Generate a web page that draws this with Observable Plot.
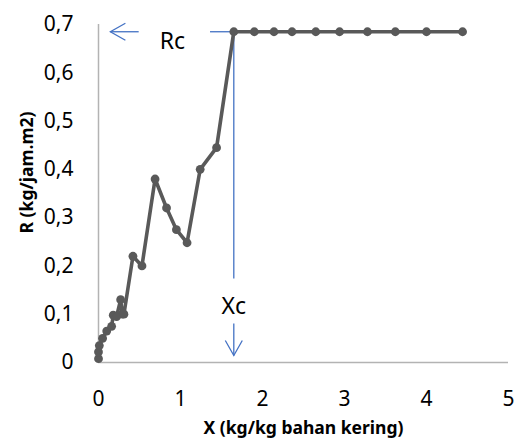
<!DOCTYPE html>
<html>
<head>
<meta charset="utf-8">
<script src="https://cdn.jsdelivr.net/npm/d3@7"></script>
<script src="https://cdn.jsdelivr.net/npm/@observablehq/plot@0.6"></script>
<style>
  html, body { margin: 0; padding: 0; background: #fff; }
  #chart { width: 519px; height: 441px; }
</style>
</head>
<body>
<div id="chart"></div>
<script>
// Moisture content X (kg/kg dry matter) and drying rate R (kg/jam.m2)
const X = [0.00, 0.00, 0.01, 0.05, 0.10, 0.16, 0.18, 0.22, 0.27, 0.29, 0.31,
           0.42, 0.53, 0.69, 0.83, 0.95, 1.08, 1.24, 1.44,
           1.65, 1.90, 2.14, 2.36, 2.65, 2.94, 3.28, 3.62, 4.00, 4.44];
const R = [0.008, 0.022, 0.035, 0.05, 0.065, 0.075, 0.098, 0.095, 0.13, 0.10, 0.10,
           0.22, 0.20, 0.38, 0.32, 0.275, 0.248, 0.40, 0.445,
           0.685, 0.685, 0.685, 0.685, 0.685, 0.685, 0.685, 0.685, 0.685, 0.685];

// critical point
const Rc = 0.685;
const Xc = 1.65;

const xTicks = [0, 1, 2, 3, 4, 5];
const yTicks = [0, 0.1, 0.2, 0.3, 0.4, 0.5, 0.6, 0.7];

const data = X.map((x, i) => ({x, r: R[i]}));
const comma = d => d === 0 ? "0" : String(d).replace(".", ",");

const font = "'Noto Sans', 'Open Sans', sans-serif";
const gray = "#595959";
const blue = "#4472c4";
const axisGray = "#b3b3b3";

// open "V" arrowheads, tip at the symbol's origin
const headLeft = {draw(ctx) { ctx.moveTo(15, -8.5); ctx.lineTo(0, 0); ctx.lineTo(15, 8.5); }};
const headDown = {draw(ctx) { ctx.moveTo(-8.5, -15); ctx.lineTo(0, 0); ctx.lineTo(8.5, -15); }};

const chart = Plot.plot({
  width: 519,
  height: 441,
  marginLeft: 98,
  marginRight: 11,
  marginTop: 24,
  marginBottom: 79,
  x: {domain: [0, 5]},
  y: {domain: [0, 0.7]},
  style: {fontFamily: font, fontSize: "21px", color: "#000", background: "#fff"},
  marks: [
    Plot.axisX({ticks: xTicks, tickSize: 0, tickPadding: 29, tickFormat: comma, label: null}),
    Plot.axisY({ticks: yTicks, tickSize: 0, tickPadding: 25, tickFormat: comma, label: null}),
    Plot.ruleY([0], {x1: 0, x2: 5, stroke: axisGray, strokeWidth: 1.5}),
    Plot.ruleX([0], {y1: 0, y2: 0.7, stroke: axisGray, strokeWidth: 1.5}),

    // Rc / Xc annotation
    Plot.link([{x1: 0.49, x2: 0.145}], {x1: "x1", x2: "x2", y1: Rc, y2: Rc,
      stroke: blue, strokeWidth: 1.3}),
    Plot.dot([0.145], {x: d => d, y: Rc, symbol: headLeft, r: 5, fill: "none",
      stroke: blue, strokeWidth: 1.3}),
    Plot.link([{x1: 1.36, x2: Xc}], {x1: "x1", x2: "x2", y1: Rc, y2: Rc,
      stroke: blue, strokeWidth: 1.3}),
    Plot.link([{y1: Rc, y2: 0.174}], {x1: Xc, x2: Xc, y1: "y1", y2: "y2",
      stroke: blue, strokeWidth: 1.3}),
    Plot.link([{y1: 0.081, y2: 0.0145}], {x1: Xc, x2: Xc, y1: "y1", y2: "y2",
      stroke: blue, strokeWidth: 1.3}),
    Plot.dot([0.0145], {x: Xc, y: d => d, symbol: headDown, r: 5, fill: "none",
      stroke: blue, strokeWidth: 1.3}),
    Plot.text(["Rc"], {x: 0.9, y: Rc, dy: 10, text: d => d, fontSize: 23, fill: "#000"}),
    Plot.text(["Xc"], {x: Xc, y: 0.116, text: d => d, fontSize: 23, fill: "#000"}),

    // drying-rate curve
    Plot.line(data, {x: "x", y: "r", stroke: gray, strokeWidth: 3.6}),
    Plot.dot(data, {x: "x", y: "r", r: 4.4, fill: gray}),

    // axis titles
    Plot.text(["X (kg/kg bahan kering)"], {frameAnchor: "bottom", dy: 66, text: d => d,
      textAnchor: "middle", lineAnchor: "middle",
      fontWeight: "bold", fontSize: 17.5, fill: "#000"}),
    Plot.text(["R (kg/jam.m2)"], {frameAnchor: "left", dx: -71, dy: -21, rotate: -90, text: d => d,
      textAnchor: "middle", lineAnchor: "middle",
      fontWeight: "bold", fontSize: 17.5, fill: "#000"})
  ]
});

document.getElementById("chart").appendChild(chart);
</script>
</body>
</html>
